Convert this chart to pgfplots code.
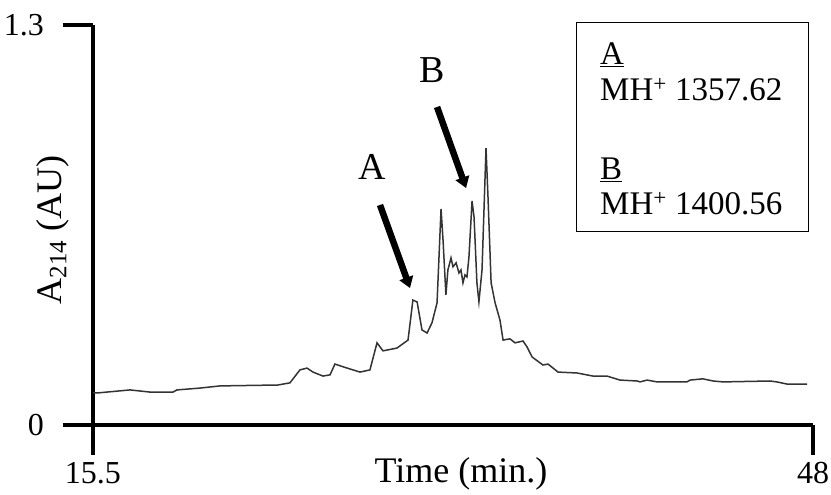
\documentclass[border=0pt]{standalone}
\usepackage{fontspec}
\setmainfont{Liberation Serif}
\usepackage{pgfplots}
\pgfplotsset{compat=1.18}
\usetikzlibrary{arrows.meta}

\begin{document}
\fontsize{33}{40}\selectfont
\begin{tikzpicture}
\begin{axis}[
  at={(0,0)}, anchor=south west,
  scale only axis, width=720pt, height=400pt,
  xmin=15.5, xmax=48, ymin=0, ymax=1.3,
  axis x line*=bottom, axis y line*=left,
  axis line style={-, line width=4.5pt, black},
  xtick={15.5,48}, xticklabels={15.5,48},
  ytick={0,1.3}, yticklabels={0,1.3},
  tick align=outside, major tick length=30pt,
  tick style={line width=4.5pt, black},
  xticklabel style={anchor=north, yshift=4pt, font=\fontsize{32}{36}\selectfont},
  yticklabel style={anchor=east, xshift=-8pt, font=\fontsize{32}{36}\selectfont},
  xlabel={Time (min.)},
  ylabel={A{\fontsize{25}{28}\selectfont\raisebox{-5pt}{214}} (AU)},
  xlabel style={at={(axis description cs:0.511,-0.145)}, anchor=base, font=\fontsize{36}{40}\selectfont},
  ylabel style={at={(axis description cs:-0.044,0.4875)}, anchor=base, font=\fontsize{36}{40}\selectfont},
  clip=false,
]
\addplot[line width=1.5pt, color=black!80] coordinates {
(15.50,0.104) (15.68,0.104) (17.17,0.114) (18.07,0.107) (19.11,0.107)
(19.29,0.114) (20.33,0.120) (21.23,0.127) (23.85,0.130) (24.39,0.137)
(24.84,0.179) (25.16,0.185) (25.43,0.172) (25.88,0.159) (26.20,0.163)
(26.42,0.198) (26.97,0.185) (27.55,0.172) (28.00,0.179) (28.32,0.267)
(28.59,0.241) (29.22,0.250) (29.72,0.276) (29.94,0.406) (30.13,0.400)
(30.35,0.309) (30.58,0.299) (30.80,0.332) (31.03,0.397) (31.21,0.702)
(31.30,0.601) (31.43,0.423) (31.52,0.504) (31.66,0.543) (31.75,0.514)
(31.89,0.527) (32.02,0.494) (32.11,0.504) (32.20,0.462) (32.29,0.488)
(32.38,0.481) (32.47,0.546) (32.61,0.728) (32.70,0.676) (32.83,0.462)
(32.92,0.400) (33.06,0.504) (33.24,0.900) (33.33,0.741) (33.47,0.462)
(33.65,0.397) (33.87,0.341) (34.01,0.276) (34.32,0.280) (34.55,0.267)
(34.91,0.273) (35.09,0.254) (35.32,0.221) (35.81,0.195) (36.04,0.198)
(36.49,0.172) (37.35,0.169) (38.07,0.159) (38.70,0.159) (39.29,0.146)
(40.06,0.143) (40.19,0.140) (40.51,0.146) (40.96,0.140) (42.31,0.140)
(42.45,0.146) (43.03,0.150) (43.49,0.143) (43.94,0.140) (46.06,0.143)
(46.37,0.140) (46.83,0.133) (47.73,0.133)
};
\draw[line width=6.5pt, -{Triangle[width=14pt,length=11pt]}] (axis cs:28.455,0.715) -- (axis cs:29.81,0.445);
\draw[line width=6.5pt, -{Triangle[width=14pt,length=11pt]}] (axis cs:31.03,1.0335) -- (axis cs:32.34,0.770);
\node[font=\fontsize{38}{40}\selectfont] at (axis cs:28.09,0.8385) {A};
\node[font=\fontsize{38}{40}\selectfont] at (axis cs:30.80,1.154) {B};
\end{axis}
\draw[line width=1pt] (483pt,193pt) rectangle (715pt,402pt);
\node[anchor=base west, inner sep=0pt] at (507pt,360pt) {\underline{A}};
\node[anchor=base west, inner sep=0pt] at (507pt,324pt) {MH\textsuperscript{+} 1357.62};
\node[anchor=base west, inner sep=0pt] at (507pt,245pt) {\underline{B}};
\node[anchor=base west, inner sep=0pt] at (507pt,210pt) {MH\textsuperscript{+} 1400.56};
\pgfresetboundingbox
\path[use as bounding box] (-93pt,-70pt) rectangle (738pt,425pt);
\end{tikzpicture}
\end{document}
